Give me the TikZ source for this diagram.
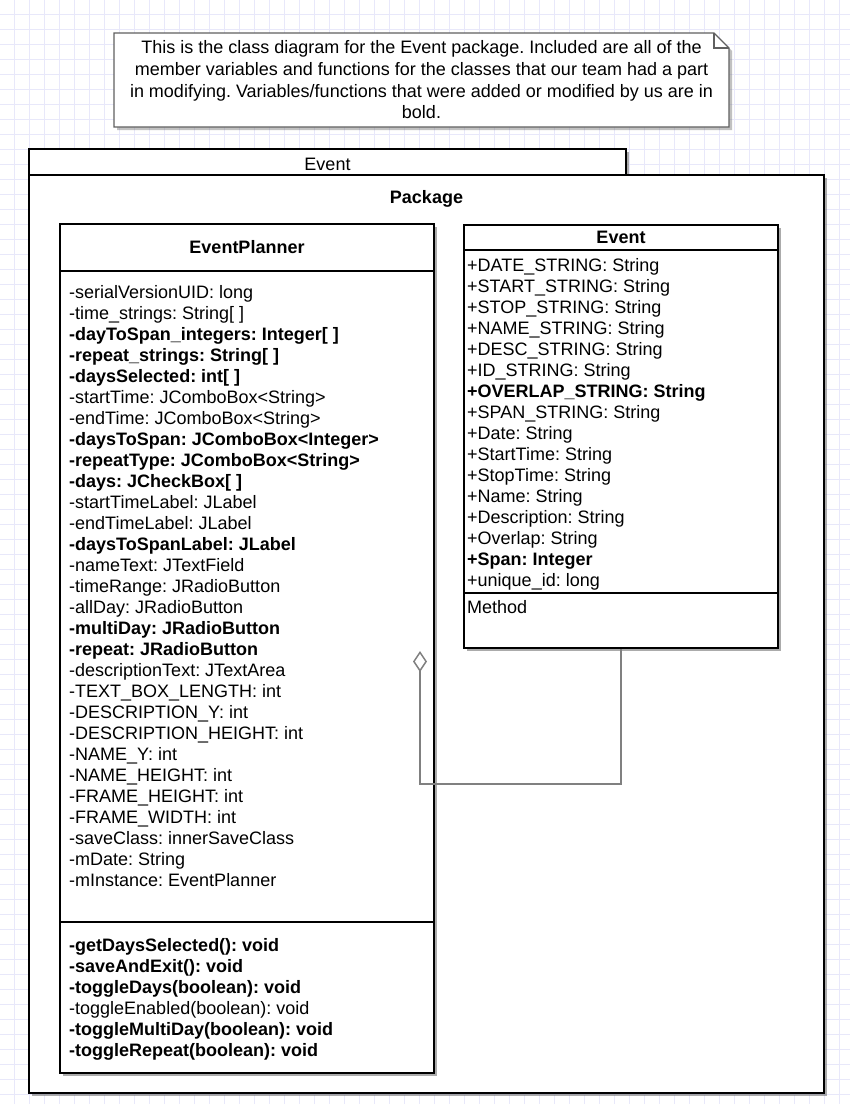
\documentclass[tikz,border=0pt]{standalone}
\usepackage{fontspec}
\setmainfont{Liberation Sans}
\usetikzlibrary{arrows.meta}
\usetikzlibrary{shadows}
\usetikzlibrary{positioning}
\frenchspacing

\definecolor{gridcol}{RGB}{232,232,250}
\definecolor{linkgray}{RGB}{128,128,128}
\definecolor{notegray}{RGB}{96,96,96}

\tikzset{
  gridline/.style={draw=gridcol, line width=1pt},
  frame/.style={draw=black, line width=2pt, fill=white, inner sep=0pt,
    anchor=north west,
    drop shadow={shadow xshift=3pt, shadow yshift=-3pt, opacity=.55, fill=black!60}},
  sep/.style={draw=black, line width=2pt},
  noteline/.style={draw=notegray, line width=1.4pt, fill=white, line join=miter},
  notetext/.style={inner sep=0pt, align=center, font=\fontsize{18}{21.7}\selectfont},
  title/.style={inner sep=0pt, font=\fontsize{18}{21}\selectfont\bfseries},
  plain/.style={inner sep=0pt, font=\fontsize{18}{21}\selectfont},
  member/.style={anchor=base west, inner sep=0pt, font=\fontsize{18}{21}\selectfont},
  aggr/.style={draw=linkgray, line width=1.5pt,
    -{Diamond[open, length=21pt, width=14pt, line join=miter]}},
}

\begin{document}
\begin{tikzpicture}[x=1pt,y=-1pt]
% background grid
\useasboundingbox (0,0) rectangle (850,1104);
\fill[white] (0,0) rectangle (850,1104);
\foreach \g in {14,29,...,850} \draw[gridline] (\g,0) -- (\g,1104);
\foreach \g in {14,29,...,1104} \draw[gridline] (0,\g) -- (850,\g);

% comment note
\filldraw[noteline, drop shadow={shadow xshift=3pt, shadow yshift=-3pt, opacity=.4, fill=black!60}]
  (114,127) -- (114,33) -- (714,33) -- (729,48) -- (729,127) -- cycle;
\draw[noteline, fill=none] (714,33) -- (714,48) -- (729,48);
\node[notetext] (note) at (421.5,80) {This is the class diagram for the Event package. Included are all of the\\
member variables and functions for the classes that our team had a part\\
in modifying. Variables/functions that were added or modified by us are in\\
bold.};

% package frame
\node[frame, minimum width=597, minimum height=26] (tab) at (28,148) {};
\node[plain] (tab-name) at ([yshift=-2pt]tab.center) {Event};
\node[frame, minimum width=795, minimum height=918] (pkg) at (28,174) {};
\node[title] (pkg-name) at ([yshift=-25pt]pkg.north) {Package};

% class EventPlanner
\node[frame, minimum width=374, minimum height=849] (ep) at (59,223) {};
\draw[sep] ([yshift=-48pt]ep.north west) -- ([yshift=-48pt]ep.north east);
\draw[sep] ([yshift=-699pt]ep.north west) -- ([yshift=-699pt]ep.north east);
\node[title] (ep-name) at ([yshift=-24pt]ep.north) {EventPlanner};
\foreach \m [count=\i from 0] in {
  -serialVersionUID: long,
  -time\_strings: String[ ],
  \textbf{-dayToSpan\_integers: Integer[ ]},
  \textbf{-repeat\_strings: String[ ]},
  \textbf{-daysSelected: int[ ]},
  -startTime: JComboBox<String>,
  -endTime: JComboBox<String>,
  \textbf{-daysToSpan: JComboBox<Integer>},
  \textbf{-repeatType: JComboBox<String>},
  \textbf{-days: JCheckBox[ ]},
  -startTimeLabel: JLabel,
  -endTimeLabel: JLabel,
  \textbf{-daysToSpanLabel: JLabel},
  -nameText: JTextField,
  -timeRange: JRadioButton,
  -allDay: JRadioButton,
  \textbf{-multiDay: JRadioButton},
  \textbf{-repeat: JRadioButton},
  -descriptionText: JTextArea,
  -TEXT\_BOX\_LENGTH: int,
  -DESCRIPTION\_Y: int,
  -DESCRIPTION\_HEIGHT: int,
  -NAME\_Y: int,
  -NAME\_HEIGHT: int,
  -FRAME\_HEIGHT: int,
  -FRAME\_WIDTH: int,
  -saveClass: innerSaveClass,
  -mDate: String,
  -mInstance: EventPlanner}
  \node[member] (ep-a\i) at (69,298+21*\i) {\m};
\foreach \m [count=\i from 0] in {
  \textbf{-getDaysSelected(): void},
  \textbf{-saveAndExit(): void},
  \textbf{-toggleDays(boolean): void},
  -toggleEnabled(boolean): void,
  \textbf{-toggleMultiDay(boolean): void},
  \textbf{-toggleRepeat(boolean): void}}
  \node[member] (ep-o\i) at (69,951+21*\i) {\m};

% class Event
\node[frame, minimum width=314, minimum height=423] (ev) at (463,224) {};
\draw[sep] ([yshift=-26pt]ev.north west) -- ([yshift=-26pt]ev.north east);
\draw[sep] ([yshift=-369pt]ev.north west) -- ([yshift=-369pt]ev.north east);
\node[title] (ev-name) at ([yshift=-13pt]ev.north) {Event};
\foreach \m [count=\i from 0] in {
  +DATE\_STRING: String,
  +START\_STRING: String,
  +STOP\_STRING: String,
  +NAME\_STRING: String,
  +DESC\_STRING: String,
  +ID\_STRING: String,
  \textbf{+OVERLAP\_STRING: String},
  +SPAN\_STRING: String,
  +Date: String,
  +StartTime: String,
  +StopTime: String,
  +Name: String,
  +Description: String,
  +Overlap: String,
  \textbf{+Span: Integer},
  +unique\_id: long}
  \node[member] (ev-a\i) at (467,271+21*\i) {\m};
\node[member] (ev-o0) at (467,613) {Method};

% aggregation
\coordinate (agg) at (420,651);
\draw[aggr] (ev.south) -- ++(0,135) -| (agg);
\end{tikzpicture}
\end{document}
